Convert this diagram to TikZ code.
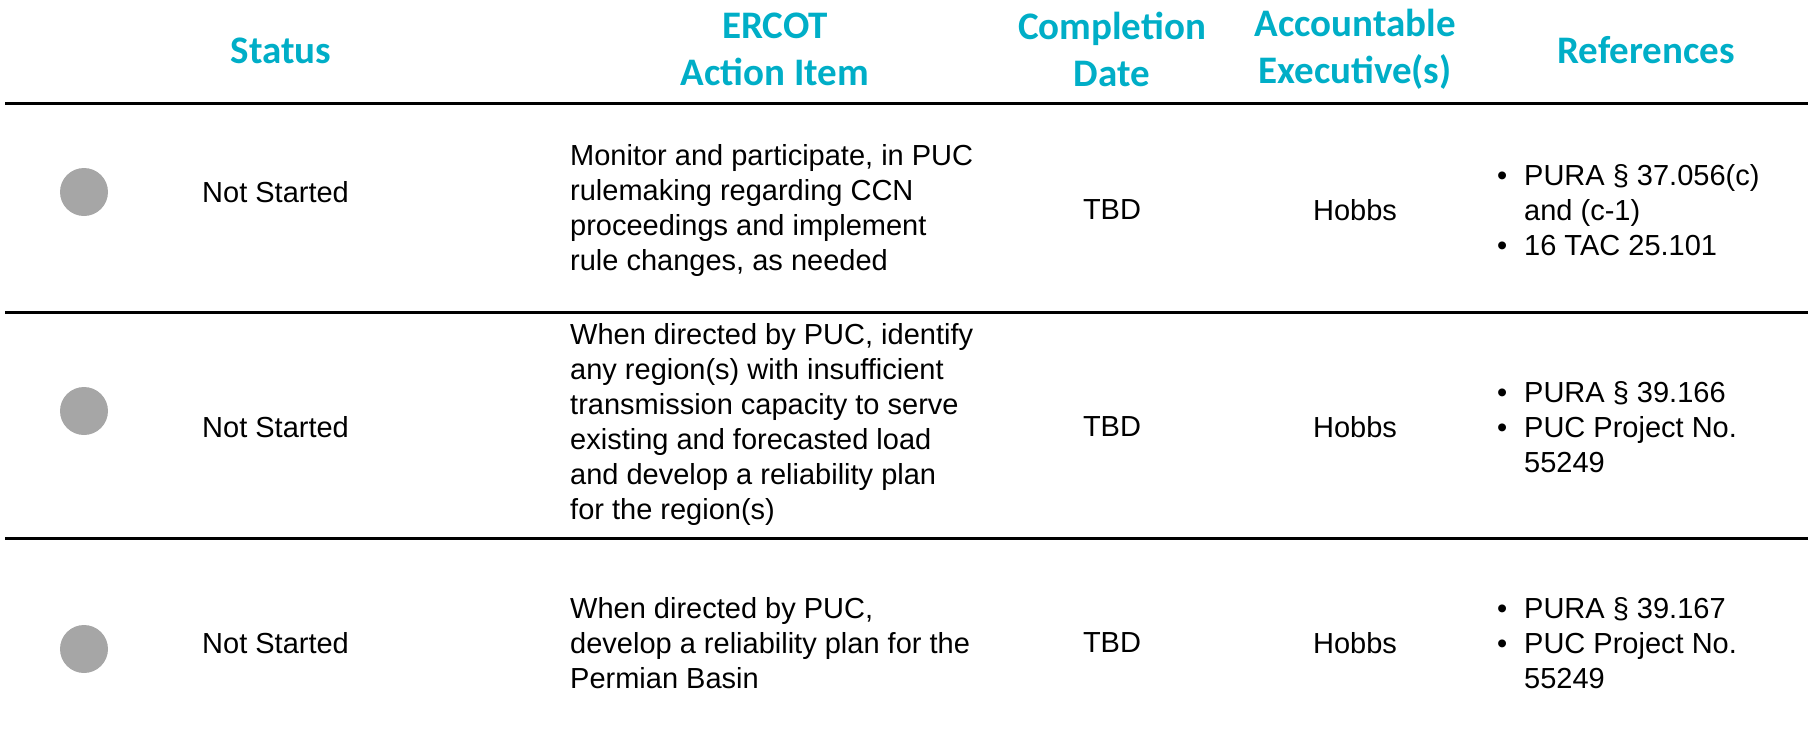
\documentclass[tikz,border=0pt]{standalone}
\usepackage{fontspec}
\setmainfont{Liberation Sans}
\newfontfamily\headfont{Carlito}
\definecolor{ercotteal}{HTML}{00AEC7}
\definecolor{dotgray}{HTML}{A6A6A6}
\newcommand{\bul}{\makebox[27pt][l]{\textbullet}}
\newcommand{\ind}{\hspace*{27pt}}
\begin{document}
\begin{tikzpicture}[x=1pt,y=-1pt,
  head/.style={font=\headfont\bfseries\fontsize{39}{47}\selectfont, text=ercotteal, align=center, inner sep=0},
  body/.style={font=\fontsize{29}{35}\selectfont, inner sep=0, align=left},
  ctr/.style={font=\fontsize{29}{35}\selectfont, inner sep=0, align=center},
  rulebar/.style={line width=3pt, black},
  dot/.style={circle, fill=dotgray, minimum size=48pt, inner sep=0}]
\useasboundingbox (0,0) rectangle (1813,745);
% header
\node[head] (hstatus) at (281,51) {Status};
\node[head] (haction) at (775,49) {ERCOT\\Action Item};
\node[head] (hdate) at (1112,49) {Completion\\Date};
\node[head] (hexec) at (1355,49) {Accountable\\Executive(s)};
\node[head] (href) at (1646,50) {References};
% rules
\coordinate (a0) at (5,103);  \coordinate (b0) at (1808,103);
\coordinate (a1) at (5,312);  \coordinate (b1) at (1808,312);
\coordinate (a2) at (5,538);  \coordinate (b2) at (1808,538);
\draw[rulebar] (a0) -- (b0);
\draw[rulebar] (a1) -- (b1);
\draw[rulebar] (a2) -- (b2);
% row 1
\node[dot] (d1) at (84,192) {};
\node[body, anchor=west] (s1) at (202,192) {Not Started};
\node[body, anchor=west] (t1) at (570,210) {Monitor and participate, in PUC\\rulemaking regarding CCN\\proceedings and implement\\rule changes, as needed};
\node[ctr] (c1) at (1112,210) {TBD};
\node[ctr] (e1) at (1355,210) {Hobbs};
\node[body, anchor=west] (r1) at (1497,210) {\bul PURA \S\ 37.056(c)\\\ind and (c-1)\\\bul 16 TAC 25.101};
% row 2
\node[dot] (d2) at (84,411) {};
\node[body, anchor=west] (s2) at (202,427) {Not Started};
\node[body, anchor=west] (t2) at (570,424) {When directed by PUC, identify\\any region(s) with insufficient\\transmission capacity to serve\\existing and forecasted load\\and develop a reliability plan\\for the region(s)};
\node[ctr] (c2) at (1112,427) {TBD};
\node[ctr] (e2) at (1355,427) {Hobbs};
\node[body, anchor=west] (r2) at (1497,427) {\bul PURA \S\ 39.166\\\bul PUC Project No.\\\ind 55249};
% row 3
\node[dot] (d3) at (84,649) {};
\node[body, anchor=west] (s3) at (202,643) {Not Started};
\node[body, anchor=west] (t3) at (570,643) {When directed by PUC,\\develop a reliability plan for the\\Permian Basin};
\node[ctr] (c3) at (1112,643) {TBD};
\node[ctr] (e3) at (1355,643) {Hobbs};
\node[body, anchor=west] (r3) at (1497,643) {\bul PURA \S\ 39.167\\\bul PUC Project No.\\\ind 55249};
\end{tikzpicture}
\end{document}
